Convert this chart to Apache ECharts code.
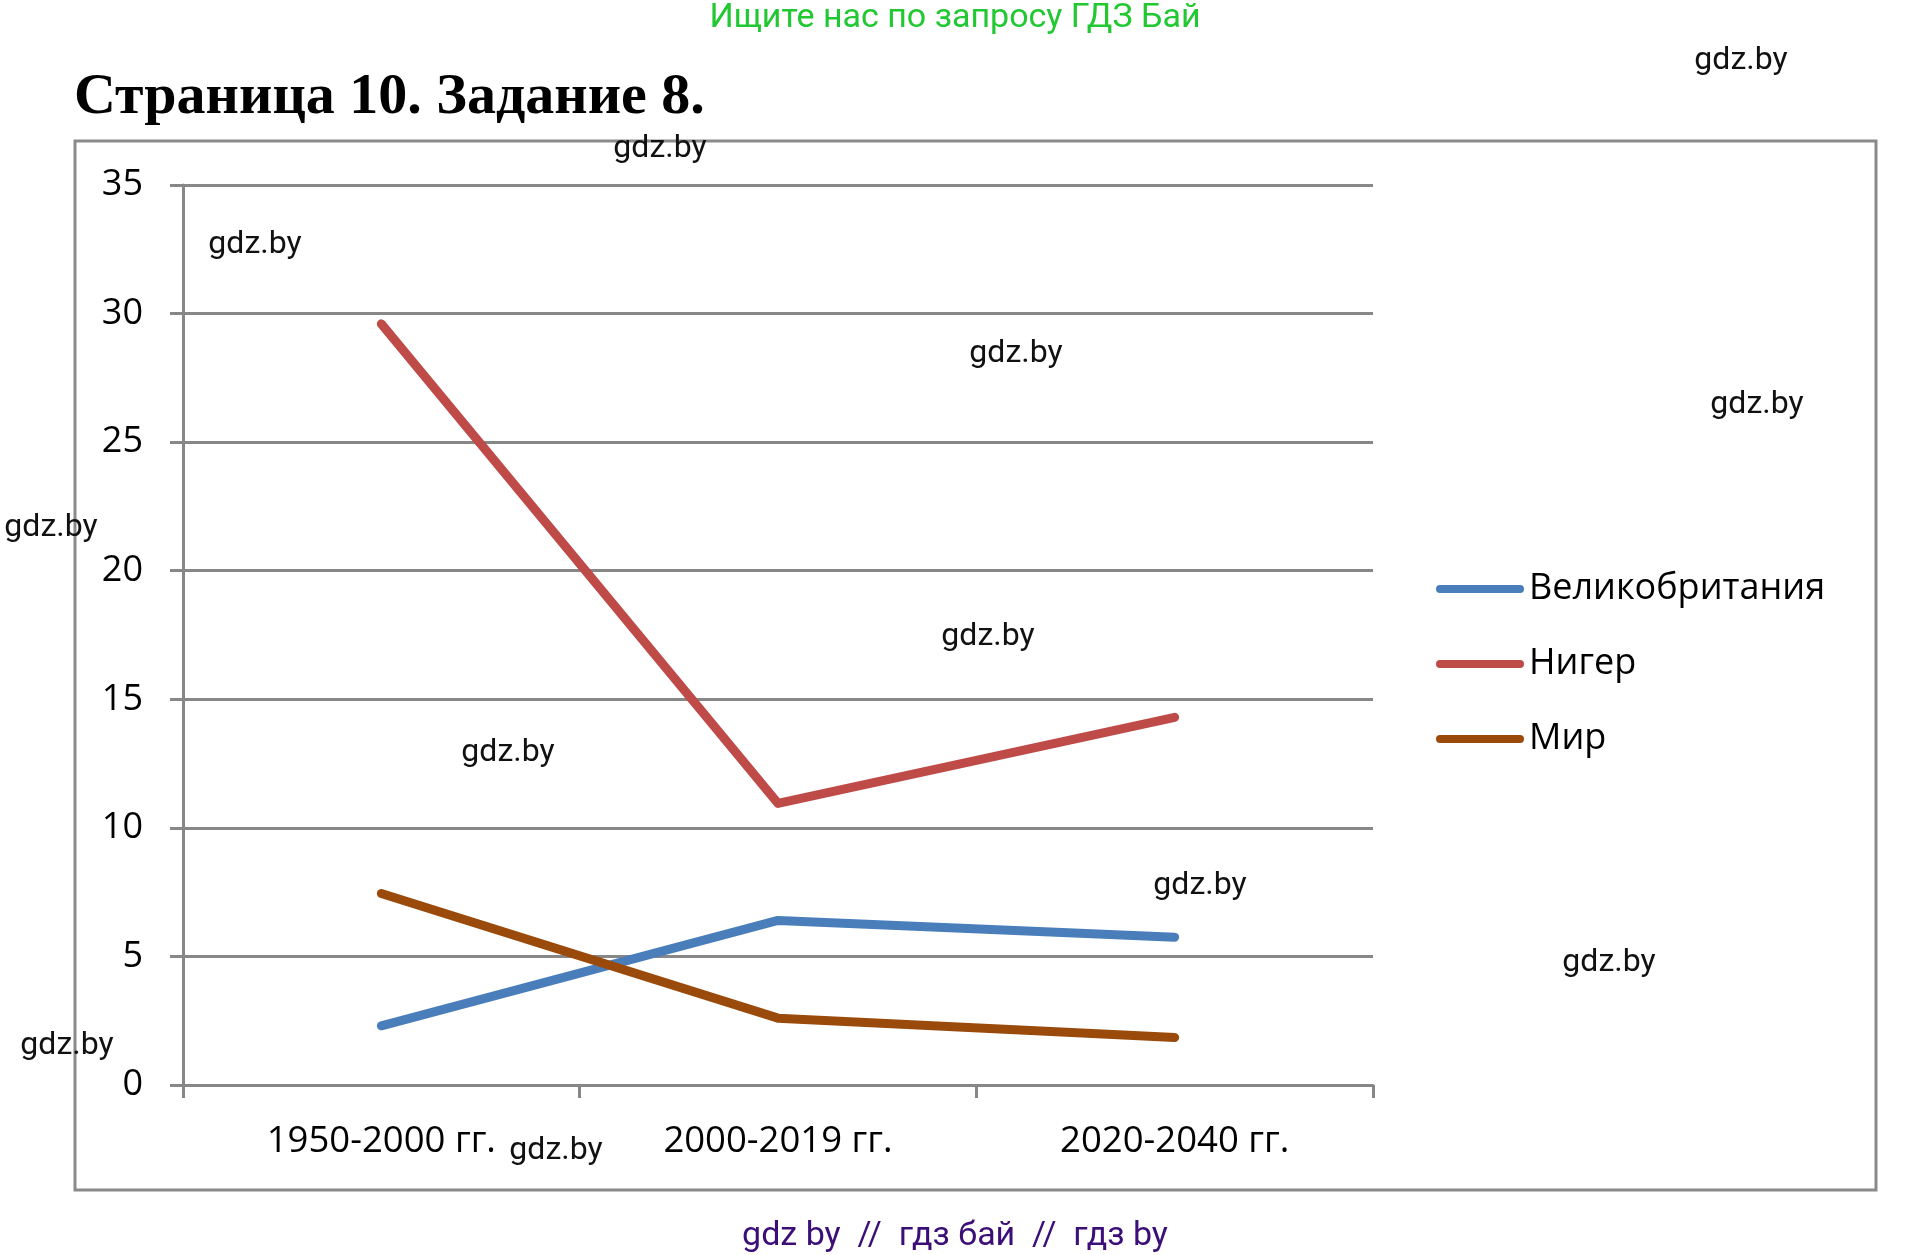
<!DOCTYPE html>
<html>
<head>
<meta charset="utf-8">
<script src="https://cdn.jsdelivr.net/npm/echarts@6/dist/echarts.min.js"></script>
<style>
html,body{margin:0;padding:0;background:#fff;}
#chart{width:1911px;height:1255px;}
</style>
</head>
<body>
<div id="chart"></div>
<script>
var categories = ['1950-2000 гг.', '2000-2019 гг.', '2020-2040 гг.'];
var seriesNames = ['Великобритания', 'Нигер', 'Мир'];
var ukValues = [2.3, 6.4, 5.75];
var nigerValues = [29.6, 10.95, 14.3];
var worldValues = [7.45, 2.6, 1.85];
var yTicks = [0, 5, 10, 15, 20, 25, 30, 35];
var watermarks = [
  [1741, 61], [660, 149], [255, 245], [1016, 354], [1757, 405], [51, 528],
  [988, 637], [508, 753], [1200, 886], [1609, 963], [67, 1046], [556, 1151]
];

var chart = echarts.init(document.getElementById('chart'), null, {renderer: 'canvas'});
var axisGray = '#878787';
var labelFont = '"Open Sans", "Noto Sans", sans-serif';
var colors = ['#4a7ebb', '#be4b48', '#9a4a0a'];

var graphics = [
  {type: 'rect', shape: {x: 75, y: 141, width: 1801, height: 1049}, style: {fill: 'none', stroke: '#8a8a8a', lineWidth: 3}, z: 0},
  {type: 'text', x: 955, y: 18, style: {text: 'Ищите нас по запросу ГДЗ Бай', fill: '#22c832', font: '34px Roboto', textAlign: 'center', textVerticalAlign: 'middle'}, z: 10},
  {type: 'text', x: 74, y: 98, style: {text: 'Страница 10. Задание 8.', fill: '#000', font: 'bold 58px "Liberation Serif", serif', textAlign: 'left', textVerticalAlign: 'middle'}, z: 10},
  {type: 'text', x: 955, y: 1236, style: {text: 'gdz by  //  гдз бай  //  гдз by', fill: '#3c0f78', font: '34px Roboto', textAlign: 'center', textVerticalAlign: 'middle'}, z: 10}
];
watermarks.forEach(function (p) {
  graphics.push({type: 'text', x: p[0], y: p[1], style: {text: 'gdz.by', fill: '#111', font: '32px Roboto', textAlign: 'center', textVerticalAlign: 'middle'}, z: 20});
});

var option = {
  animation: false,
  backgroundColor: '#fff',
  color: colors,
  grid: {left: 183, right: 538, top: 185, bottom: 170, containLabel: false},
  legend: {
    orient: 'vertical',
    left: 1431,
    top: 564,
    itemWidth: 88,
    itemHeight: 8,
    itemGap: 35,
    icon: 'path://M4,0 L84,0 A4,4 0 0 1 84,8 L4,8 A4,4 0 0 1 4,0 Z',
    itemStyle: {borderWidth: 0},
    textStyle: {fontSize: 36, fontFamily: labelFont, color: '#000', lineHeight: 40, padding: [0, 0, 0, 0]},
    data: seriesNames
  },
  xAxis: {
    type: 'category',
    data: categories,
    boundaryGap: true,
    axisLine: {show: true, lineStyle: {color: axisGray, width: 3}},
    axisTick: {show: true, length: 13, alignWithLabel: false, lineStyle: {color: axisGray, width: 3}},
    axisLabel: {fontSize: 36.5, fontFamily: labelFont, color: '#000', margin: 57, verticalAlign: 'middle'},
    splitLine: {show: false}
  },
  yAxis: {
    type: 'value',
    min: yTicks[0],
    max: yTicks[yTicks.length - 1],
    interval: 5,
    axisLine: {show: true, lineStyle: {color: axisGray, width: 3}},
    axisTick: {show: true, length: 13, lineStyle: {color: axisGray, width: 3}},
    axisLabel: {fontSize: 36, fontFamily: labelFont, color: '#000', margin: 40},
    splitLine: {show: true, lineStyle: {color: axisGray, width: 3}}
  },
  series: [
    {name: seriesNames[0], type: 'line', data: ukValues, symbol: 'none', lineStyle: {width: 9, color: colors[0], cap: 'round', join: 'round'}, z: 3},
    {name: seriesNames[1], type: 'line', data: nigerValues, symbol: 'none', lineStyle: {width: 9, color: colors[1], cap: 'round', join: 'round'}, z: 3},
    {name: seriesNames[2], type: 'line', data: worldValues, symbol: 'none', lineStyle: {width: 9, color: colors[2], cap: 'round', join: 'round'}, z: 3}
  ],
  graphic: graphics
};
chart.setOption(option);
</script>
</body>
</html>
